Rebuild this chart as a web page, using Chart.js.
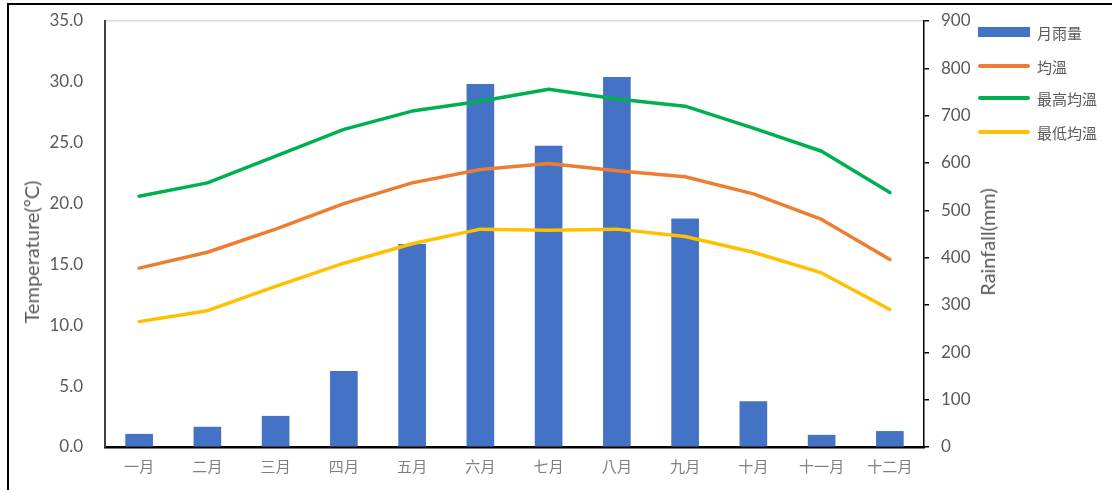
<!DOCTYPE html>
<html>
<head>
<meta charset="utf-8">
<script src="https://cdn.jsdelivr.net/npm/chart.js@4/dist/chart.umd.min.js"></script>
<style>
  html, body { margin: 0; padding: 0; background: #fff; overflow: hidden; }
  #wrap { position: relative; width: 1112px; height: 490px; }
  #frame { position: absolute; left: 7px; top: 3px; width: 1200px; height: 600px;
           border-left: 2px solid #000; border-top: 2px solid #000; pointer-events: none; }
  .axisTitle { position: absolute; transform: translate(-50%, -50%) rotate(-90deg);
               font: 20px Lato, sans-serif; color: #595959; white-space: nowrap; }
  #tempTitle { left: 31px; top: 252px; }
  #rainTitle { left: 987px; top: 242px; }
  #legend { position: absolute; left: 978px; top: 0; }
  .item { position: absolute; left: 0; height: 20px; width: 130px; }
  .sw { position: absolute; left: 0; width: 52px; }
  .lbl { position: absolute; left: 59px; top: 0; line-height: 20px;
         font: 15px "Noto Sans CJK TC", sans-serif; color: #595959; white-space: nowrap; }
</style>
</head>
<body>
<div id="wrap">
  <canvas id="climate" width="1112" height="490"></canvas>
  <div id="tempTitle" class="axisTitle">Temperature(ºC)</div>
  <div id="rainTitle" class="axisTitle">Rainfall(mm)</div>
  <div id="legend"></div>
  <div id="frame"></div>
</div>
<script>
// data
const months = ['一月','二月','三月','四月','五月','六月','七月','八月','九月','十月','十一月','十二月'];
const rainfall = [27, 42, 65, 160, 428, 766, 636, 781, 482, 96, 25, 33];
const avgTemp = [14.7, 16.0, 17.9, 20.0, 21.7, 22.8, 23.3, 22.7, 22.2, 20.8, 18.7, 15.4];
const maxTemp = [20.6, 21.7, 23.9, 26.1, 27.6, 28.4, 29.4, 28.6, 28.0, 26.2, 24.3, 20.9];
const minTemp = [10.3, 11.2, 13.2, 15.1, 16.7, 17.9, 17.8, 17.9, 17.3, 16.0, 14.3, 11.3];
const seriesNames = ['月雨量', '均溫', '最高均溫', '最低均溫'];
const tempTicks = [0, 5, 10, 15, 20, 25, 30, 35];
const rainTicks = [0, 100, 200, 300, 400, 500, 600, 700, 800, 900];

const colors = ['#4472C4', '#ED7D31', '#00B050', '#FFC000'];
const tickFont = { family: 'Lato', size: 17 };

function lineSet(label, data, color, order) {
    return {
        type: 'line',
        label: label,
        data: data,
        yAxisID: 'y',
        borderColor: color,
        backgroundColor: color,
        borderWidth: 3.5,
        borderCapStyle: 'round',
        borderJoinStyle: 'round',
        pointRadius: 0,
        tension: 0,
        order: order
    };
}

// fixed width, and no extra room for the end labels
function fitWidth(w) {
    return function(s) {
        s.width = w;
        s.paddingTop = 0;
        s.paddingBottom = 0;
    };
}

var ctx = document.getElementById('climate').getContext('2d');

var chart = new Chart(ctx, {
    data: {
        labels: months,
        datasets: [
            {
                type: 'bar',
                label: seriesNames[0],
                data: rainfall,
                yAxisID: 'y2',
                backgroundColor: colors[0],
                borderWidth: 0,
                barThickness: 27,
                order: 10
            },
            lineSet(seriesNames[1], avgTemp, colors[1], 3),
            lineSet(seriesNames[2], maxTemp, colors[2], 2),
            lineSet(seriesNames[3], minTemp, colors[3], 1)
        ]
    },
    options: {
        responsive: false,
        animation: false,
        devicePixelRatio: 1,
        layout: { padding: { left: 0, right: 108, top: 21, bottom: 0 } },
        plugins: {
            legend: { display: false },
            tooltip: { enabled: false }
        },
        scales: {
            x: {
                grid: { display: false, drawTicks: false },
                border: { color: '#000', width: 2.5 },
                ticks: {
                    color: '#7f7f7f',
                    font: { family: '"Noto Sans CJK TC"', size: 15 },
                    padding: 10,
                    maxRotation: 0
                },
                afterFit: function(s) { s.height = 43; s.paddingLeft = 0; s.paddingRight = 0; }
            },
            y: {
                position: 'left',
                min: 0,
                max: 35,
                afterBuildTicks: function(s) { s.ticks = tempTicks.map(v => ({ value: v })); },
                grid: {
                    drawTicks: false,
                    lineWidth: 1.5,
                    color: c => (c.tick && c.tick.value === 35) ? '#d9d9d9' : 'rgba(0,0,0,0)'
                },
                border: { color: '#404040', width: 2 },
                ticks: {
                    color: '#595959',
                    font: tickFont,
                    padding: 22,
                    callback: v => Number(v).toFixed(1)
                },
                afterFit: fitWidth(105)
            },
            y2: {
                position: 'right',
                min: 0,
                max: 900,
                afterBuildTicks: function(s) { s.ticks = rainTicks.map(v => ({ value: v })); },
                grid: {
                    drawOnChartArea: false,
                    drawTicks: true,
                    tickLength: 5,
                    color: '#000',
                    lineWidth: 1.5
                },
                border: { color: '#000', width: 1.5 },
                ticks: {
                    color: '#595959',
                    font: tickFont,
                    padding: 12
                },
                afterFit: fitWidth(80)
            }
        }
    }
});

// legend built from the datasets
var legend = document.getElementById('legend');
var legendY = [32, 66, 98, 132];
chart.data.datasets.forEach(function(ds, i) {
    var item = document.createElement('div');
    item.className = 'item';
    item.style.top = (legendY[i] - 10) + 'px';
    var sw = document.createElement('div');
    sw.className = 'sw';
    var h = ds.type === 'bar' ? 10 : 4;
    sw.style.height = h + 'px';
    sw.style.top = (10 - h / 2) + 'px';
    sw.style.background = ds.type === 'bar' ? ds.backgroundColor : ds.borderColor;
    if (ds.type !== 'bar') sw.style.borderRadius = '2px';
    var lbl = document.createElement('div');
    lbl.className = 'lbl';
    lbl.textContent = ds.label;
    item.appendChild(sw);
    item.appendChild(lbl);
    legend.appendChild(item);
});
</script>
</body>
</html>
